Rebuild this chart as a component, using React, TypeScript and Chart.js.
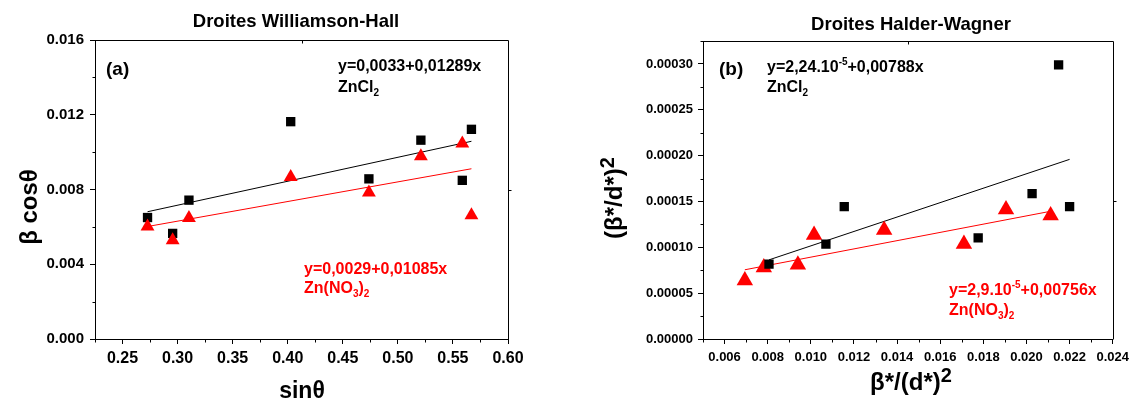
import React, { useEffect, useRef } from "react";
import { Chart, registerables } from "chart.js";

Chart.register(...registerables);

const FONT = "'Liberation Sans', Arial, Helvetica, sans-serif";

// ---------- (a) Williamson-Hall ----------
const whSinTheta = [0.2727, 0.2955, 0.3103, 0.4027, 0.4737, 0.5209, 0.5585, 0.5668];
const whZnCl2 = [0.0065, 0.00565, 0.00743, 0.01163, 0.00857, 0.01064, 0.00849, 0.01122];
const whZnNO3 = [0.00602, 0.00528, 0.00648, 0.00867, 0.00784, 0.00978, 0.01046, 0.00662];
const whFitZnCl2X = [0.2727, 0.5668];
const whFitZnCl2Y = [0.00681, 0.01058];
const whFitZnNO3X = [0.269, 0.5668];
const whFitZnNO3Y = [0.00598, 0.00911];
const whXTicks = [0.25, 0.3, 0.35, 0.4, 0.45, 0.5, 0.55, 0.6];
const whXTickLabels = ["0.25", "0.30", "0.35", "0.40", "0.45", "0.50", "0.55", "0.60"];
const whYTicks = [0, 0.004, 0.008, 0.012, 0.016];
const whYTickLabels = ["0.000", "0.004", "0.008", "0.012", "0.016"];

// ---------- (b) Halder-Wagner ----------
const hwZnCl2X = [0.00806, 0.0107, 0.01155, 0.01776, 0.02026, 0.02149, 0.022];
const hwZnCl2Y = [0.0000816, 0.0001034, 0.0001444, 0.0001103, 0.0001585, 0.0002989, 0.0001444];
const hwZnNO3X = [0.00694, 0.00782, 0.0094, 0.01015, 0.0134, 0.0171, 0.01905, 0.02112];
const hwZnNO3Y = [0.0000638, 0.000078, 0.0000809, 0.0001135, 0.000119, 0.0001037, 0.0001411, 0.0001346];
const hwFitZnCl2X = [0.00806, 0.022];
const hwFitZnCl2Y = [0.0000863, 0.0001959];
const hwFitZnNO3X = [0.00694, 0.02112];
const hwFitZnNO3Y = [0.0000755, 0.0001393];
const hwXTicks = [0.006, 0.008, 0.01, 0.012, 0.014, 0.016, 0.018, 0.02, 0.022, 0.024];
const hwXTickLabels = ["0.006", "0.008", "0.010", "0.012", "0.014", "0.016", "0.018", "0.020", "0.022", "0.024"];
const hwYTicks = [0, 0.00005, 0.0001, 0.00015, 0.0002, 0.00025, 0.0003];
const hwYTickLabels = ["0.00000", "0.00005", "0.00010", "0.00015", "0.00020", "0.00025", "0.00030"];

const zip = (xs: number[], ys: number[]) => xs.map((x, i) => ({ x, y: ys[i] }));

type Run = { t: string; size: number; dy?: number };

function runsWidth(ctx: CanvasRenderingContext2D, runs: Run[]) {
  let w = 0;
  for (const r of runs) {
    ctx.font = `bold ${r.size}px ${FONT}`;
    w += ctx.measureText(r.t).width;
  }
  return w;
}

function drawRuns(
  ctx: CanvasRenderingContext2D,
  x: number,
  y: number,
  runs: Run[],
  color: string,
  align: "left" | "center" = "left"
) {
  ctx.save();
  ctx.fillStyle = color;
  ctx.textBaseline = "alphabetic";
  ctx.textAlign = "left";
  let cx = align === "center" ? x - runsWidth(ctx, runs) / 2 : x;
  for (const r of runs) {
    ctx.font = `bold ${r.size}px ${FONT}`;
    ctx.fillText(r.t, cx, y + (r.dy || 0));
    cx += ctx.measureText(r.t).width;
  }
  ctx.restore();
}

function drawRotated(ctx: CanvasRenderingContext2D, x: number, y: number, runs: Run[]) {
  ctx.save();
  ctx.translate(x, y);
  ctx.rotate(-Math.PI / 2);
  drawRuns(ctx, 0, 0, runs, "#000", "center");
  ctx.restore();
}

function frameAndMinorTicks(chart: any, xMajors: number[], yMajors: number[]) {
  const ctx: CanvasRenderingContext2D = chart.ctx;
  const a = chart.chartArea;
  const xs = chart.scales.x;
  const ys = chart.scales.y;
  const L = Math.round(a.left) + 0.5;
  const R = Math.round(a.right) + 0.5;
  const T = Math.round(a.top) + 0.5;
  const B = Math.round(a.bottom) + 0.5;
  ctx.save();
  ctx.strokeStyle = "#000";
  ctx.lineWidth = 1;
  ctx.beginPath();
  ctx.moveTo(L, T);
  ctx.lineTo(R, T);
  ctx.lineTo(R, B);
  const xStep = xMajors[1] - xMajors[0];
  for (let i = -1; i < xMajors.length; i++) {
    const v = (i < 0 ? xMajors[0] - xStep : xMajors[i]) + xStep / 2;
    if (v >= xs.min - 1e-12 && v <= xs.max + 1e-12) {
      const px = Math.round(xs.getPixelForValue(v)) + 0.5;
      ctx.moveTo(px, B);
      ctx.lineTo(px, B + 3);
    }
  }
  const yStep = yMajors[1] - yMajors[0];
  for (let i = -1; i < yMajors.length; i++) {
    const v = (i < 0 ? yMajors[0] - yStep : yMajors[i]) + yStep / 2;
    if (v >= ys.min - 1e-12 && v <= ys.max + 1e-12) {
      const py = Math.round(ys.getPixelForValue(v)) + 0.5;
      ctx.moveTo(L, py);
      ctx.lineTo(L - 3, py);
    }
  }
  const mx = Math.round(xs.getPixelForValue((xs.min + xs.max) / 2)) + 0.5;
  ctx.moveTo(mx, T);
  ctx.lineTo(mx, T + 3);
  const my = Math.round(ys.getPixelForValue(yMajors[Math.floor(yMajors.length / 2)])) + 0.5;
  ctx.moveTo(R, my);
  ctx.lineTo(R + 3, my);
  ctx.stroke();
  ctx.restore();
}

function baseOptions(p: {
  xMin: number;
  xMax: number;
  yMin: number;
  yMax: number;
  xTicks: number[];
  xLabels: string[];
  yTicks: number[];
  yLabels: string[];
  yWidth: number;
  xHeight: number;
  padTop: number;
  padRight: number;
  xFont: number;
  yFont: number;
  xPad: number;
  yPad: number;
}) {
  return {
    responsive: false,
    animation: false as const,
    layout: { padding: { left: 0, right: p.padRight, top: p.padTop, bottom: 0 } },
    plugins: { legend: { display: false }, tooltip: { enabled: false }, title: { display: false } },
    scales: {
      x: {
        type: "linear" as const,
        min: p.xMin,
        max: p.xMax,
        afterBuildTicks: (s: any) => {
          s.ticks = p.xTicks.map((v) => ({ value: v }));
        },
        afterFit: (s: any) => {
          s.height = p.xHeight;
        },
        grid: { display: true, drawOnChartArea: false, drawTicks: true, tickLength: 5, color: "#000", lineWidth: 1 },
        border: { display: true, color: "#000", width: 1 },
        ticks: {
          color: "#000",
          padding: p.xPad,
          maxRotation: 0,
          autoSkip: false,
          font: { family: FONT, weight: "bold" as const, size: p.xFont },
          callback: (_v: any, i: number) => p.xLabels[i],
        },
      },
      y: {
        type: "linear" as const,
        min: p.yMin,
        max: p.yMax,
        afterBuildTicks: (s: any) => {
          s.ticks = p.yTicks.map((v) => ({ value: v }));
        },
        afterFit: (s: any) => {
          s.width = p.yWidth;
        },
        grid: { display: true, drawOnChartArea: false, drawTicks: true, tickLength: 5, color: "#000", lineWidth: 1 },
        border: { display: true, color: "#000", width: 1 },
        ticks: {
          color: "#000",
          padding: p.yPad,
          autoSkip: false,
          font: { family: FONT, weight: "bold" as const, size: p.yFont },
          callback: (_v: any, i: number) => p.yLabels[i],
        },
      },
    },
  };
}

function ChartA() {
  const ref = useRef<HTMLCanvasElement>(null);
  useEffect(() => {
    if (!ref.current) return;
    const decor = {
      id: "decorA",
      afterDraw(chart: any) {
        const ctx: CanvasRenderingContext2D = chart.ctx;
        frameAndMinorTicks(chart, whXTicks, whYTicks);
        drawRuns(ctx, 296, 26.5, [{ t: "Droites Williamson-Hall", size: 18.5 }], "#000", "center");
        drawRuns(ctx, 106, 75, [{ t: "(a)", size: 19 }], "#000");
        drawRuns(ctx, 338, 71, [{ t: "y=0,0033+0,01289x", size: 16 }], "#000");
        drawRuns(ctx, 338, 92, [{ t: "ZnCl", size: 16 }, { t: "2", size: 10, dy: 4 }], "#000");
        drawRuns(ctx, 304, 274, [{ t: "y=0,0029+0,01085x", size: 16 }], "#ff0000");
        drawRuns(
          ctx,
          304,
          293,
          [
            { t: "Zn(NO", size: 16 },
            { t: "3", size: 10, dy: 4 },
            { t: ")", size: 16 },
            { t: "2", size: 10, dy: 4 },
          ],
          "#ff0000"
        );
        drawRuns(ctx, 302, 398, [{ t: "sin\u03b8", size: 23 }], "#000", "center");
        drawRotated(ctx, 37, 207, [{ t: "\u03b2 cos\u03b8", size: 24 }]);
      },
    };
    const chart = new Chart(ref.current, {
      type: "scatter",
      data: {
        datasets: [
          {
            label: "Zn(NO3)2",
            data: zip(whSinTheta, whZnNO3),
            pointStyle: "triangle",
            pointRadius: 8,
            pointBackgroundColor: "#ff0000",
            pointBorderWidth: 0,
            order: 0,
          },
          {
            label: "ZnCl2",
            data: zip(whSinTheta, whZnCl2),
            pointStyle: "rect",
            pointRadius: 6.6,
            pointBackgroundColor: "#000",
            pointBorderWidth: 0,
            order: 1,
          },
          {
            label: "fit ZnCl2",
            data: zip(whFitZnCl2X, whFitZnCl2Y),
            showLine: true,
            borderColor: "#000",
            borderWidth: 1,
            pointRadius: 0,
            order: 2,
          },
          {
            label: "fit Zn(NO3)2",
            data: zip(whFitZnNO3X, whFitZnNO3Y),
            showLine: true,
            borderColor: "#ff0000",
            borderWidth: 1,
            pointRadius: 0,
            order: 3,
          },
        ],
      },
      options: baseOptions({
        xMin: 0.225,
        xMax: 0.6,
        yMin: 0,
        yMax: 0.016,
        xTicks: whXTicks,
        xLabels: whXTickLabels,
        yTicks: whYTicks,
        yLabels: whYTickLabels,
        yWidth: 95,
        xHeight: 70,
        padTop: 40,
        padRight: 52,
        xFont: 16,
        yFont: 15,
        xPad: 5,
        yPad: 6,
      }) as any,
      plugins: [decor],
    });
    return () => chart.destroy();
  }, []);
  return <canvas ref={ref} width={560} height={409} style={{ display: "block" }} />;
}

function ChartB() {
  const ref = useRef<HTMLCanvasElement>(null);
  useEffect(() => {
    if (!ref.current) return;
    const ox = 560;
    const decor = {
      id: "decorB",
      afterDraw(chart: any) {
        const ctx: CanvasRenderingContext2D = chart.ctx;
        frameAndMinorTicks(chart, hwXTicks, hwYTicks);
        drawRuns(ctx, 911 - ox, 30, [{ t: "Droites Halder-Wagner", size: 18.5 }], "#000", "center");
        drawRuns(ctx, 719 - ox, 75, [{ t: "(b)", size: 19 }], "#000");
        drawRuns(
          ctx,
          767 - ox,
          72,
          [
            { t: "y=2,24.10", size: 16 },
            { t: "-5", size: 10, dy: -7 },
            { t: "+0,00788x", size: 16 },
          ],
          "#000"
        );
        drawRuns(ctx, 767 - ox, 92, [{ t: "ZnCl", size: 16 }, { t: "2", size: 10, dy: 4 }], "#000");
        drawRuns(
          ctx,
          949 - ox,
          295,
          [
            { t: "y=2,9.10", size: 16 },
            { t: "-5", size: 10, dy: -7 },
            { t: "+0,00756x", size: 16 },
          ],
          "#ff0000"
        );
        drawRuns(
          ctx,
          949 - ox,
          315,
          [
            { t: "Zn(NO", size: 16 },
            { t: "3", size: 10, dy: 4 },
            { t: ")", size: 16 },
            { t: "2", size: 10, dy: 4 },
          ],
          "#ff0000"
        );
        drawRuns(
          ctx,
          911 - ox,
          390,
          [
            { t: "\u03b2*/(d*)", size: 24 },
            { t: "2", size: 20, dy: -8 },
          ],
          "#000",
          "center"
        );
        drawRotated(ctx, 622 - ox, 198, [
          { t: "(\u03b2*/d*)", size: 24 },
          { t: "2", size: 20, dy: -8 },
        ]);
      },
    };
    const chart = new Chart(ref.current, {
      type: "scatter",
      data: {
        datasets: [
          {
            label: "ZnCl2",
            data: zip(hwZnCl2X, hwZnCl2Y),
            pointStyle: "rect",
            pointRadius: 6.6,
            pointBackgroundColor: "#000",
            pointBorderWidth: 0,
            order: 0,
          },
          {
            label: "Zn(NO3)2",
            data: zip(hwZnNO3X, hwZnNO3Y),
            pointStyle: "triangle",
            pointRadius: 9.5,
            pointBackgroundColor: "#ff0000",
            pointBorderWidth: 0,
            order: 1,
          },
          {
            label: "fit ZnCl2",
            data: zip(hwFitZnCl2X, hwFitZnCl2Y),
            showLine: true,
            borderColor: "#000",
            borderWidth: 1,
            pointRadius: 0,
            order: 2,
          },
          {
            label: "fit Zn(NO3)2",
            data: zip(hwFitZnNO3X, hwFitZnNO3Y),
            showLine: true,
            borderColor: "#ff0000",
            borderWidth: 1,
            pointRadius: 0,
            order: 3,
          },
        ],
      },
      options: baseOptions({
        xMin: 0.005,
        xMax: 0.024,
        yMin: 0,
        yMax: 0.000325,
        xTicks: hwXTicks,
        xLabels: hwXTickLabels,
        yTicks: hwYTicks,
        yLabels: hwYTickLabels,
        yWidth: 143,
        xHeight: 70,
        padTop: 41,
        padRight: 17,
        xFont: 13,
        yFont: 13,
        xPad: 6,
        yPad: 5,
      }) as any,
      plugins: [decor],
    });
    return () => chart.destroy();
  }, []);
  return <canvas ref={ref} width={575} height={409} style={{ display: "block" }} />;
}

export default function App() {
  return (
    <div style={{ position: "absolute", left: 0, top: 0, width: 1135, height: 409, background: "#fff" }}>
      <div style={{ position: "absolute", left: 0, top: 0, width: 560, height: 409 }}>
        <ChartA />
      </div>
      <div style={{ position: "absolute", left: 560, top: 0, width: 575, height: 409 }}>
        <ChartB />
      </div>
    </div>
  );
}
